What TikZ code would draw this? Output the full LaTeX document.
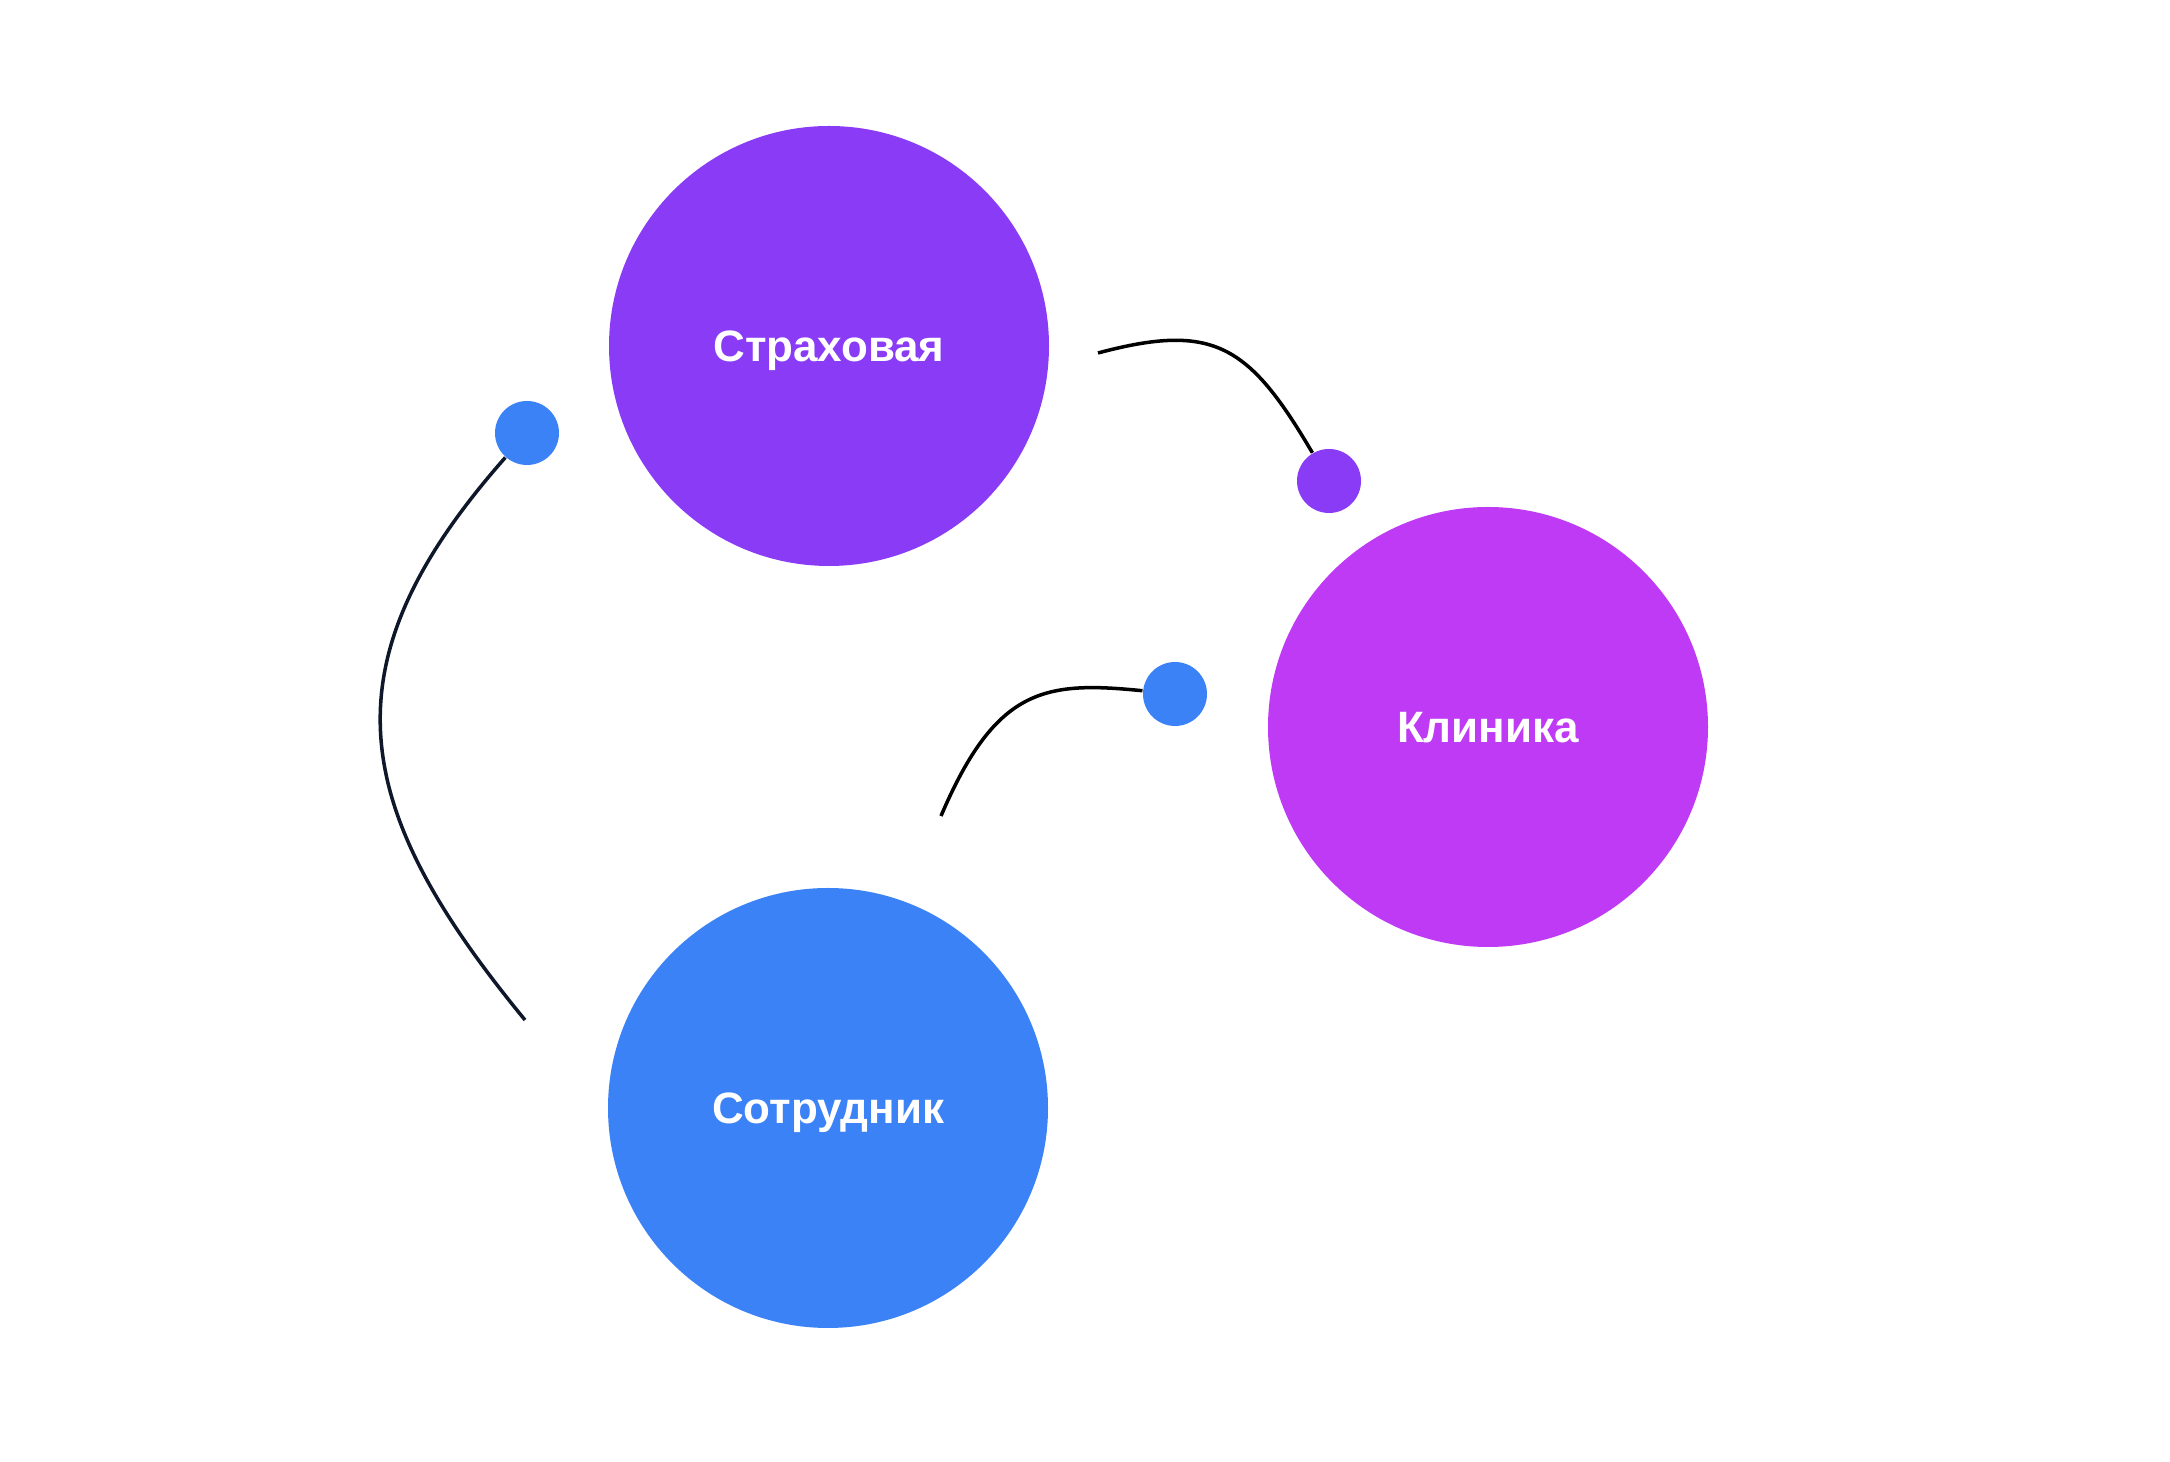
\documentclass[tikz,border=0pt]{standalone}
\usepackage{fontspec}
\setmainfont{Liberation Sans}
\usepackage{xcolor}
\definecolor{insurerviolet}{RGB}{138, 59, 246}
\definecolor{clinicpurple}{RGB}{190, 58, 245}
\definecolor{staffblue}{RGB}{59, 130, 246}
\definecolor{linknavy}{RGB}{15, 23, 42}
\usepackage{tikz}
\usetikzlibrary{positioning,calc}

\begin{document}
\begin{tikzpicture}[main/.style = {circle, draw=none, minimum size=4.4cm, inner sep=0pt, text depth=0pt, text=white, font=\fontsize{12.5}{14}\selectfont\bfseries}, dot/.style = {circle, draw=none, minimum size=0.64cm, inner sep=0pt}, link/.style = {line width=1pt}]

\useasboundingbox (0,0) rectangle (21.7,-14.62);

\node[main, fill = insurerviolet] (insurer) at (8.29,-3.46) {Страховая};
\node[main, fill = clinicpurple] (clinic) at (14.88,-7.27) {Клиника};
\node[main, fill = staffblue] (staff) at (8.28,-11.08) {Сотрудник};

\node[dot, fill = staffblue] (dotleft) at (5.27,-4.33) {};
\node[dot, fill = insurerviolet] (dotright) at (13.29,-4.81) {};
\node[dot, fill = staffblue] (dotmid) at (11.75,-6.94) {};

\coordinate (endleft) at (5.25,-10.20);
\coordinate (starttop) at (10.98,-3.53);
\coordinate (startmid) at (9.41,-8.16);

\draw[link, linknavy] (dotleft) .. controls (3.22,-6.65) and (3.50,-8.07) .. (endleft);
\draw[link, black] (starttop) .. controls (12.14,-3.22) and (12.49,-3.45) .. (dotright);
\draw[link, black] (startmid) .. controls (9.96,-6.87) and (10.45,-6.81) .. (dotmid);
\end{tikzpicture}
\end{document}
